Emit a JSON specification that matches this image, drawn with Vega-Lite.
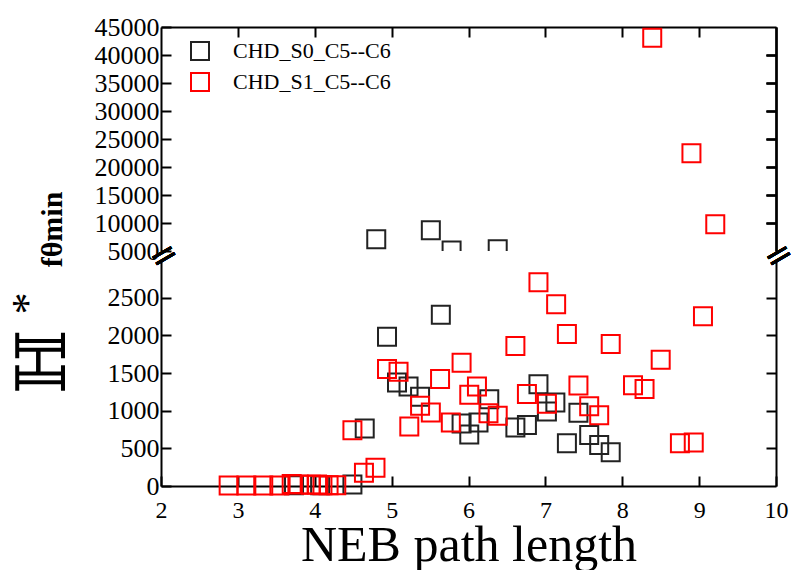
{
  "$schema": "https://vega.github.io/schema/vega-lite/v6.json",
  "padding": {"left": 6, "top": 14, "right": 14, "bottom": 5},
  "background": "white",
  "bounds": "flush",
  "config": {
    "view": {"stroke": null},
    "font": "Liberation Serif",
    "axis": {
      "grid": false, "domain": true, "labelFlush": false,
      "domainColor": "#000", "domainWidth": 2,
      "tickColor": "#000", "tickWidth": 2, "tickSize": -10,
      "labelFont": "Liberation Serif", "labelFontSize": 24, "labelColor": "#000",
      "titleFont": "Liberation Serif", "titleColor": "#000"
    }
  },
  "data": {"values": [
    {"s": "CHD_S0_C5--C6", "x": 3.73, "y": 10},
    {"s": "CHD_S0_C5--C6", "x": 4.07, "y": 10},
    {"s": "CHD_S0_C5--C6", "x": 4.49, "y": 20},
    {"s": "CHD_S0_C5--C6", "x": 4.65, "y": 763},
    {"s": "CHD_S0_C5--C6", "x": 4.80, "y": 7100},
    {"s": "CHD_S0_C5--C6", "x": 4.94, "y": 1982},
    {"s": "CHD_S0_C5--C6", "x": 5.07, "y": 1374},
    {"s": "CHD_S0_C5--C6", "x": 5.22, "y": 1321},
    {"s": "CHD_S0_C5--C6", "x": 5.37, "y": 1184},
    {"s": "CHD_S0_C5--C6", "x": 5.51, "y": 8700},
    {"s": "CHD_S0_C5--C6", "x": 5.64, "y": 2274},
    {"s": "CHD_S0_C5--C6", "x": 5.78, "y": 5100},
    {"s": "CHD_S0_C5--C6", "x": 5.91, "y": 829},
    {"s": "CHD_S0_C5--C6", "x": 6.01, "y": 683},
    {"s": "CHD_S0_C5--C6", "x": 6.13, "y": 843},
    {"s": "CHD_S0_C5--C6", "x": 6.27, "y": 1153},
    {"s": "CHD_S0_C5--C6", "x": 6.38, "y": 5300},
    {"s": "CHD_S0_C5--C6", "x": 6.61, "y": 776},
    {"s": "CHD_S0_C5--C6", "x": 6.76, "y": 811},
    {"s": "CHD_S0_C5--C6", "x": 6.91, "y": 1352},
    {"s": "CHD_S0_C5--C6", "x": 7.02, "y": 988},
    {"s": "CHD_S0_C5--C6", "x": 7.13, "y": 1108},
    {"s": "CHD_S0_C5--C6", "x": 7.28, "y": 568},
    {"s": "CHD_S0_C5--C6", "x": 7.43, "y": 971},
    {"s": "CHD_S0_C5--C6", "x": 7.57, "y": 678},
    {"s": "CHD_S0_C5--C6", "x": 7.70, "y": 545},
    {"s": "CHD_S0_C5--C6", "x": 7.85, "y": 448},
    {"s": "CHD_S1_C5--C6", "x": 2.88, "y": 5},
    {"s": "CHD_S1_C5--C6", "x": 3.11, "y": 5},
    {"s": "CHD_S1_C5--C6", "x": 3.33, "y": 5},
    {"s": "CHD_S1_C5--C6", "x": 3.54, "y": 5},
    {"s": "CHD_S1_C5--C6", "x": 3.70, "y": 25},
    {"s": "CHD_S1_C5--C6", "x": 3.79, "y": 20},
    {"s": "CHD_S1_C5--C6", "x": 3.95, "y": 15},
    {"s": "CHD_S1_C5--C6", "x": 4.03, "y": 20},
    {"s": "CHD_S1_C5--C6", "x": 4.10, "y": 10},
    {"s": "CHD_S1_C5--C6", "x": 4.18, "y": 10},
    {"s": "CHD_S1_C5--C6", "x": 4.28, "y": 10},
    {"s": "CHD_S1_C5--C6", "x": 4.49, "y": 740},
    {"s": "CHD_S1_C5--C6", "x": 4.64, "y": 177},
    {"s": "CHD_S1_C5--C6", "x": 4.79, "y": 243},
    {"s": "CHD_S1_C5--C6", "x": 4.94, "y": 1552},
    {"s": "CHD_S1_C5--C6", "x": 5.09, "y": 1516},
    {"s": "CHD_S1_C5--C6", "x": 5.23, "y": 789},
    {"s": "CHD_S1_C5--C6", "x": 5.37, "y": 1064},
    {"s": "CHD_S1_C5--C6", "x": 5.51, "y": 975},
    {"s": "CHD_S1_C5--C6", "x": 5.63, "y": 1419},
    {"s": "CHD_S1_C5--C6", "x": 5.77, "y": 842},
    {"s": "CHD_S1_C5--C6", "x": 5.91, "y": 1636},
    {"s": "CHD_S1_C5--C6", "x": 6.01, "y": 1210},
    {"s": "CHD_S1_C5--C6", "x": 6.11, "y": 1321},
    {"s": "CHD_S1_C5--C6", "x": 6.26, "y": 967},
    {"s": "CHD_S1_C5--C6", "x": 6.38, "y": 931},
    {"s": "CHD_S1_C5--C6", "x": 6.61, "y": 1858},
    {"s": "CHD_S1_C5--C6", "x": 6.76, "y": 1220},
    {"s": "CHD_S1_C5--C6", "x": 6.91, "y": 2704},
    {"s": "CHD_S1_C5--C6", "x": 7.02, "y": 1091},
    {"s": "CHD_S1_C5--C6", "x": 7.14, "y": 2411},
    {"s": "CHD_S1_C5--C6", "x": 7.28, "y": 2018},
    {"s": "CHD_S1_C5--C6", "x": 7.43, "y": 1334},
    {"s": "CHD_S1_C5--C6", "x": 7.57, "y": 1060},
    {"s": "CHD_S1_C5--C6", "x": 7.70, "y": 940},
    {"s": "CHD_S1_C5--C6", "x": 7.85, "y": 1885},
    {"s": "CHD_S1_C5--C6", "x": 8.14, "y": 1339},
    {"s": "CHD_S1_C5--C6", "x": 8.29, "y": 1286},
    {"s": "CHD_S1_C5--C6", "x": 8.39, "y": 43100},
    {"s": "CHD_S1_C5--C6", "x": 8.50, "y": 1676},
    {"s": "CHD_S1_C5--C6", "x": 8.75, "y": 568},
    {"s": "CHD_S1_C5--C6", "x": 8.90, "y": 22450},
    {"s": "CHD_S1_C5--C6", "x": 8.93, "y": 576},
    {"s": "CHD_S1_C5--C6", "x": 9.05, "y": 2252},
    {"s": "CHD_S1_C5--C6", "x": 9.21, "y": 9770}
  ]},
  "resolve": {"scale": {"color": "shared"}, "legend": {"color": "independent"}},
  "spacing": 9,
  "vconcat": [
    {
      "width": 615, "height": 224,
      "transform": [{"filter": "datum.y >= 4000"}],
      "layer": [
        {
          "mark": {"type": "point", "shape": "square", "size": 324, "strokeWidth": 2, "filled": false, "clip": true, "opacity": 1},
          "encoding": {
            "x": {"field": "x", "type": "quantitative", "scale": {"domain": [2, 10], "nice": false},
                  "axis": {"orient": "top", "domain": true, "labels": false, "title": null, "values": [3, 4, 5, 6, 7, 8, 9]}},
            "y": {"field": "y", "type": "quantitative", "scale": {"domain": [5000, 45000], "nice": false, "zero": false},
                  "axis": {"orient": "left", "domain": true, "format": "d", "labelFont": "Liberation Serif", "labelFontSize": 26, "values": [5000, 10000, 15000, 20000, 25000, 30000, 35000, 40000, 45000], "labelPadding": 12,
                           "title": "fθmin", "titleFontSize": 30, "titleFontWeight": "bold", "titleAngle": 270, "titleAlign": "center", "titleBaseline": "alphabetic", "titleX": -100, "titleY": 202}},
            "color": {"field": "s", "type": "nominal", "scale": {"domain": ["CHD_S0_C5--C6", "CHD_S1_C5--C6"], "range": ["#222222", "#ff0000"]},
                      "legend": {"title": null, "orient": "none", "legendX": 28, "legendY": 13, "padding": 0, "symbolType": "square", "symbolSize": 324, "symbolStrokeWidth": 2, "symbolFillColor": "transparent", "labelFont": "Liberation Serif", "labelFontSize": 22, "labelColor": "#000", "labelOffset": 22, "rowPadding": 5}}
          }
        },
        {
          "mark": {"type": "point", "shape": "square", "size": 324, "strokeWidth": 2, "filled": false, "clip": true, "opacity": 0},
          "encoding": {
            "x": {"field": "x", "type": "quantitative", "scale": {"domain": [2, 10], "nice": false},
                  "axis": {"orient": "top", "domain": true, "labels": false, "title": null, "values": [3, 4, 5, 6, 7, 8, 9]}},
            "y": {"field": "y", "type": "quantitative", "scale": {"domain": [5000, 45000], "nice": false, "zero": false},
                  "axis": {"orient": "right", "domain": true, "labels": false, "title": null, "values": [10000, 15000, 20000, 25000, 30000, 35000, 40000]}}
          }
        },
        {
          "mark": {"type": "text", "text": "=", "angle": -30, "fontSize": 34, "font": "DejaVu Sans", "baseline": "middle", "align": "center", "dy": 6, "color": "#000", "clip": false},
          "encoding": {
            "x": {"datum": 2, "type": "quantitative", "scale": {"domain": [2, 10], "nice": false},
                  "axis": {"orient": "top", "domain": true, "labels": false, "title": null, "values": [3, 4, 5, 6, 7, 8, 9]}},
            "y": {"datum": 5000, "type": "quantitative", "scale": {"domain": [5000, 45000], "nice": false, "zero": false},
                  "axis": {"orient": "right", "domain": true, "labels": false, "title": null, "values": [10000, 15000, 20000, 25000, 30000, 35000, 40000]}}
          }
        },
        {
          "mark": {"type": "text", "text": "=", "angle": -30, "fontSize": 34, "font": "DejaVu Sans", "baseline": "middle", "align": "center", "dy": 6, "color": "#000", "clip": false},
          "encoding": {
            "x": {"datum": 10, "type": "quantitative", "scale": {"domain": [2, 10], "nice": false},
                  "axis": {"orient": "top", "domain": true, "labels": false, "title": null, "values": [3, 4, 5, 6, 7, 8, 9]}},
            "y": {"datum": 5000, "type": "quantitative", "scale": {"domain": [5000, 45000], "nice": false, "zero": false},
                  "axis": {"orient": "right", "domain": true, "labels": false, "title": null, "values": [10000, 15000, 20000, 25000, 30000, 35000, 40000]}}
          }
        }
      ]
    },
    {
      "width": 615, "height": 226,
      "transform": [{"filter": "datum.y <= 3000"}],
      "layer": [
        {
          "mark": {"type": "point", "shape": "square", "size": 324, "strokeWidth": 2, "filled": false, "opacity": 1},
          "encoding": {
            "x": {"field": "x", "type": "quantitative", "scale": {"domain": [2, 10], "nice": false},
                  "axis": {"orient": "bottom", "domain": true, "format": "d", "labelFont": "Liberation Serif", "labelFontSize": 24, "values": [2, 3, 4, 5, 6, 7, 8, 9, 10], "labelPadding": 22, "title": "NEB path length", "titleFontSize": 50, "titleFontWeight": "normal", "titlePadding": -2}},
            "y": {"field": "y", "type": "quantitative", "scale": {"domain": [0, 3000], "nice": false},
                  "axis": {"orient": "left", "domain": true, "format": "d", "labelFont": "Liberation Serif", "labelFontSize": 26, "values": [0, 500, 1000, 1500, 2000, 2500], "labelPadding": 12,
                           "title": "ℍ", "titleFont": "DejaVu Serif", "titleFontSize": 68, "titleFontWeight": "normal", "titleAngle": 270, "titleAlign": "center", "titleBaseline": "alphabetic", "titleX": -97, "titleY": 101}},
            "color": {"field": "s", "type": "nominal", "scale": {"domain": ["CHD_S0_C5--C6", "CHD_S1_C5--C6"], "range": ["#222222", "#ff0000"]}, "legend": null}
          }
        },
        {
          "mark": {"type": "point", "shape": "square", "size": 324, "strokeWidth": 2, "filled": false, "opacity": 0},
          "encoding": {
            "x": {"field": "x", "type": "quantitative", "scale": {"domain": [2, 10], "nice": false},
                  "axis": {"orient": "bottom", "domain": true, "format": "d", "labelFont": "Liberation Serif", "labelFontSize": 24, "values": [2, 3, 4, 5, 6, 7, 8, 9, 10], "labelPadding": 22, "title": "NEB path length", "titleFontSize": 50, "titleFontWeight": "normal", "titlePadding": -2}},
            "y": {"field": "y", "type": "quantitative", "scale": {"domain": [0, 3000], "nice": false},
                  "axis": {"orient": "right", "domain": true, "labels": false, "values": [500, 1000, 1500, 2000, 2500],
                           "title": "*", "titleFontSize": 44, "titleFontWeight": "normal", "titleAngle": 270, "titleAlign": "center", "titleBaseline": "alphabetic", "titleX": -735, "titleY": 43}}
          }
        }
      ]
    }
  ]
}
